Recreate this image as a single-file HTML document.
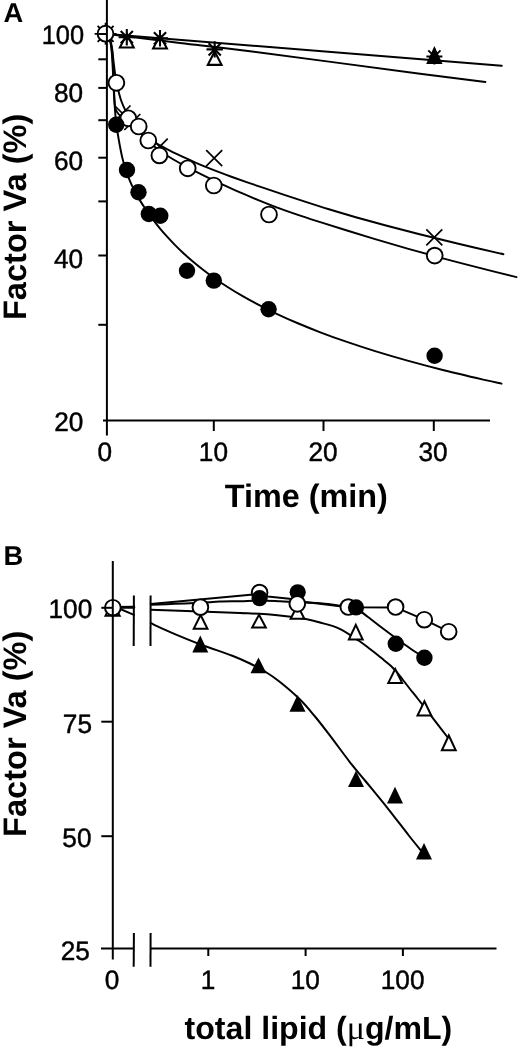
<!DOCTYPE html>
<html><head><meta charset="utf-8"><title>Figure</title>
<style>
html,body{margin:0;padding:0;background:#fff;}
body{width:520px;height:1052px;overflow:hidden;}
svg{display:block;font-family:"Liberation Sans",sans-serif;will-change:transform;filter:grayscale(1) blur(0.35px);}
svg text{text-rendering:geometricPrecision;}
svg text.d{stroke:#000;stroke-width:0.45px;}
</style></head><body>
<svg width="520" height="1052" viewBox="0 0 520 1052" stroke="#000" fill="#000">
<rect x="0" y="0" width="520" height="1052" fill="#fff" stroke="none"/>
<g stroke="#000">
<g fill="none" stroke-width="1.95" stroke-linecap="round" stroke-linejoin="round">
<path d="M107.3,34 L501.7,65.8"/>
<path d="M107.3,34 C119.42,35.5 156.22,40.12 180,43 C203.78,45.88 210,46.18 250,51.3 C290,56.42 380.77,68.58 420,73.7 C459.23,78.82 474.5,80.62 485.4,82"/>
<path d="M107.5,34 C108.02,35.33 109.83,39 110.6,42 C111.37,45 111.72,48.67 112.1,52 C112.48,55.33 112.65,57.33 112.9,62 C113.15,66.67 113.33,73.67 113.6,80 C113.87,86.33 114.17,95.17 114.5,100 C114.83,104.83 114.93,106.67 115.6,109 C116.27,111.33 117.43,112.67 118.5,114 C119.57,115.33 120.92,116.11 122,117 C123.08,117.89 124,118.43 125,119.37 C126,120.31 127,121.63 128,122.67 C129,123.7 129.98,124.64 131,125.58 C132.02,126.51 133.02,127.38 134.12,128.3 C135.22,129.22 136.38,130.14 137.61,131.08 C138.85,132.03 140.15,132.98 141.53,133.95 C142.91,134.92 144.36,135.91 145.91,136.92 C147.46,137.93 149.09,138.96 150.82,140.02 C152.56,141.08 154.38,142.16 156.32,143.27 C158.26,144.38 160.3,145.52 162.48,146.69 C164.65,147.86 166.94,149.07 169.38,150.31 C171.81,151.55 174.37,152.82 177.1,154.14 C179.83,155.46 182.7,156.81 185.75,158.21 C188.81,159.61 192.02,161.04 195.44,162.53 C198.87,164.01 202.46,165.54 206.3,167.11 C210.13,168.68 214.16,170.29 218.45,171.95 C222.75,173.6 227.25,175.29 232.06,177.04 C236.88,178.78 241.93,180.55 247.31,182.41 C252.7,184.26 258.36,186.15 264.39,188.17 C270.42,190.2 276.76,192.31 283.52,194.56 C290.28,196.81 297.37,199.21 304.94,201.67 C312.51,204.13 320.45,206.71 328.93,209.3 C337.41,211.89 346.31,214.52 355.8,217.22 C365.3,219.91 375.27,222.64 385.9,225.48 C396.53,228.31 407.7,231.22 419.61,234.22 C431.52,237.23 444.02,240.31 457.36,243.5 C470.7,246.68 492.29,251.63 499.64,253.34 C507,255.04 501.19,253.68 501.5,253.75"/>
<path d="M107.5,34 C108.05,35.33 109.95,39 110.8,42 C111.65,45 112.13,48.67 112.6,52 C113.07,55.33 112.97,56.87 113.6,62 C114.23,67.13 115.55,77.8 116.4,82.8 C117.25,87.8 117.85,88.88 118.7,92 C119.55,95.12 120.37,98.42 121.5,101.5 C122.63,104.58 124.08,107.82 125.5,110.5 C126.92,113.18 128.75,115.61 130,117.59 C131.25,119.56 131.94,120.73 133,122.33 C134.06,123.94 135.17,125.58 136.36,127.21 C137.55,128.85 138.79,130.5 140.12,132.14 C141.45,133.78 142.85,135.42 144.34,137.03 C145.83,138.65 147.39,140.25 149.06,141.82 C150.73,143.39 152.48,144.92 154.35,146.45 C156.21,147.97 158.17,149.46 160.27,150.97 C162.36,152.47 164.56,153.96 166.9,155.47 C169.24,156.98 171.7,158.48 174.33,160.03 C176.95,161.57 179.71,163.12 182.65,164.72 C185.59,166.33 188.67,167.95 191.96,169.65 C195.26,171.34 198.71,173.07 202.4,174.88 C206.09,176.69 209.96,178.56 214.09,180.51 C218.22,182.46 222.55,184.47 227.18,186.58 C231.8,188.68 236.66,190.88 241.84,193.14 C247.02,195.39 252.46,197.75 258.26,200.12 C264.06,202.48 270.15,204.91 276.65,207.32 C283.15,209.74 289.97,212.14 297.25,214.61 C304.53,217.08 312.17,219.52 320.32,222.14 C328.47,224.75 337.03,227.45 346.16,230.28 C355.29,233.11 364.87,236.08 375.1,239.12 C385.32,242.17 396.06,245.33 407.51,248.57 C418.96,251.81 430.98,255.14 443.81,258.57 C456.64,262 472.35,266.07 484.47,269.16 C496.58,272.25 511.16,275.78 516.5,277.1"/>
<path d="M107.5,34 C107.98,35.33 109.7,39 110.4,42 C111.1,45 111.37,48.67 111.7,52 C112.03,55.33 112.15,57.83 112.4,62 C112.65,66.17 112.88,70.67 113.2,77 C113.52,83.33 113.77,92.05 114.3,100 C114.83,107.95 115.28,116.07 116.4,124.7 C117.52,133.33 119.73,145.27 121,151.81 C122.27,158.34 123,160.33 124,163.91 C125,167.5 126,170.46 127,173.31 C128,176.16 129,178.63 130,181.02 C131,183.4 131.94,185.43 133,187.61 C134.06,189.8 135.17,191.94 136.36,194.11 C137.55,196.28 138.79,198.43 140.12,200.62 C141.45,202.81 142.85,205.01 144.34,207.26 C145.83,209.52 147.39,211.81 149.06,214.15 C150.73,216.49 152.48,218.89 154.35,221.32 C156.21,223.76 158.17,226.24 160.27,228.76 C162.36,231.28 164.56,233.84 166.9,236.44 C169.24,239.04 171.7,241.68 174.33,244.35 C176.95,247.02 179.71,249.73 182.65,252.47 C185.59,255.21 188.67,257.99 191.96,260.79 C195.26,263.59 198.71,266.42 202.4,269.28 C206.09,272.14 209.96,275.02 214.09,277.93 C218.22,280.84 222.55,283.77 227.18,286.72 C231.8,289.67 236.66,292.65 241.84,295.64 C247.02,298.63 252.46,301.64 258.26,304.66 C264.06,307.68 270.15,310.73 276.65,313.78 C283.15,316.84 289.97,319.91 297.25,323 C304.53,326.08 312.17,329.19 320.32,332.3 C328.47,335.42 337.03,338.55 346.16,341.69 C355.29,344.83 364.87,347.98 375.1,351.15 C385.32,354.31 396.06,357.49 407.51,360.67 C418.96,363.86 430.98,367.06 443.81,370.27 C456.64,373.47 474.85,377.68 484.47,379.91 C494.08,382.15 498.66,383.04 501.5,383.67"/>
</g>
<path d="M126.8,34.09 L133.68,47.45 L119.92,47.45 Z" fill="#fff" stroke-width="2.1" stroke-linejoin="miter"/>
<path d="M118.6,37.2 L135,37.2 M126.8,29 L126.8,45.4 M120.7,31.1 L132.9,43.3 M120.7,43.3 L132.9,31.1" fill="none" stroke-width="2.1"/>
<path d="M160,35.09 L166.88,48.45 L153.12,48.45 Z" fill="#fff" stroke-width="2.1" stroke-linejoin="miter"/>
<path d="M151.8,38.3 L168.2,38.3 M160,30.1 L160,46.5 M153.9,32.2 L166.1,44.4 M153.9,44.4 L166.1,32.2" fill="none" stroke-width="2.1"/>
<path d="M214.7,51.4 L221.58,64.85 L207.82,64.85 Z" fill="#fff" stroke-width="2.1" stroke-linejoin="miter"/>
<path d="M206.5,49.4 L222.9,49.4 M214.7,41.2 L214.7,57.6 M208.6,43.3 L220.8,55.5 M208.6,55.5 L220.8,43.3" fill="none" stroke-width="2.1"/>
<path d="M434.4,46.1 L442.6,64 L426.2,64 Z" fill="#000" stroke="none"/>
<path d="M426.4,56.5 L442.4,56.5 M434.4,48.5 L434.4,64.5 M428.3,50.4 L440.5,62.6 M428.3,62.6 L440.5,50.4" fill="none" stroke-width="1.9"/>
<path d="M114.5,105.5 L130.5,121.5 M114.5,121.5 L130.5,105.5" fill="none" stroke-width="1.7"/>
<path d="M124.3,114 L140.3,130 M124.3,130 L140.3,114" fill="none" stroke-width="1.7"/>
<path d="M151.7,138.7 L167.7,154.7 M151.7,154.7 L167.7,138.7" fill="none" stroke-width="1.7"/>
<path d="M206.2,150.2 L222.2,166.2 M206.2,166.2 L222.2,150.2" fill="none" stroke-width="1.7"/>
<path d="M426.3,229.3 L442.3,245.3 M426.3,245.3 L442.3,229.3" fill="none" stroke-width="1.7"/>
<path d="M94.6,33.8 L116.6,33.8 M105.6,22.8 L105.6,44.8 M97.6,25.8 L113.6,41.8 M97.6,41.8 L113.6,25.8" fill="none" stroke-width="1.8"/>
<circle cx="105.5" cy="33.7" r="7.9" fill="#fff" stroke-width="1.9"/>
<circle cx="116.4" cy="82.8" r="7.9" fill="#fff" stroke-width="1.9"/>
<circle cx="128.3" cy="118.3" r="7.9" fill="#fff" stroke-width="1.9"/>
<circle cx="138.7" cy="126.5" r="7.9" fill="#fff" stroke-width="1.9"/>
<circle cx="148.3" cy="140.5" r="7.9" fill="#fff" stroke-width="1.9"/>
<circle cx="159.4" cy="155.4" r="7.9" fill="#fff" stroke-width="1.9"/>
<circle cx="187.7" cy="168.3" r="7.9" fill="#fff" stroke-width="1.9"/>
<circle cx="213.8" cy="185.5" r="7.9" fill="#fff" stroke-width="1.9"/>
<circle cx="269" cy="214.5" r="7.9" fill="#fff" stroke-width="1.9"/>
<circle cx="434.7" cy="255.6" r="7.9" fill="#fff" stroke-width="1.9"/>
<circle cx="116.2" cy="124.7" r="8.2" fill="#000" stroke="none"/>
<circle cx="127" cy="170" r="8.2" fill="#000" stroke="none"/>
<circle cx="138.5" cy="192.3" r="8.2" fill="#000" stroke="none"/>
<circle cx="148.8" cy="214" r="8.2" fill="#000" stroke="none"/>
<circle cx="160.3" cy="215.8" r="8.2" fill="#000" stroke="none"/>
<circle cx="187" cy="270.8" r="8.2" fill="#000" stroke="none"/>
<circle cx="213.8" cy="280.6" r="8.2" fill="#000" stroke="none"/>
<circle cx="268.6" cy="309.2" r="8.2" fill="#000" stroke="none"/>
<circle cx="434.6" cy="355.7" r="8.2" fill="#000" stroke="none"/>
<line x1="106.9" y1="0" x2="106.9" y2="435.5" stroke-width="2"/>
<line x1="103" y1="420.5" x2="490" y2="420.5" stroke-width="2"/>
<line x1="98.3" y1="34" x2="106.9" y2="34" stroke-width="2"/>
<line x1="98.3" y1="59.3" x2="106.9" y2="59.3" stroke-width="2"/>
<line x1="98.3" y1="87.9" x2="106.9" y2="87.9" stroke-width="2"/>
<line x1="98.3" y1="120.2" x2="106.9" y2="120.2" stroke-width="2"/>
<line x1="98.3" y1="157.7" x2="106.9" y2="157.7" stroke-width="2"/>
<line x1="98.3" y1="201.4" x2="106.9" y2="201.4" stroke-width="2"/>
<line x1="98.3" y1="255.5" x2="106.9" y2="255.5" stroke-width="2"/>
<line x1="98.3" y1="324.8" x2="106.9" y2="324.8" stroke-width="2"/>
<line x1="213.8" y1="420.5" x2="213.8" y2="431" stroke-width="2"/>
<line x1="323.5" y1="420.5" x2="323.5" y2="431" stroke-width="2"/>
<line x1="433.8" y1="420.5" x2="433.8" y2="431" stroke-width="2"/>
<text stroke="none" transform="translate(3.6,21.6) scale(1.000,1)" font-size="27.3" font-weight="bold" text-anchor="start">A</text>
<text stroke="none" transform="translate(84.1,44.2) scale(0.955,1)" font-size="26.6" class="d" text-anchor="end">100</text>
<text stroke="none" transform="translate(83.2,101.9) scale(0.985,1)" font-size="26.6" class="d" text-anchor="end">80</text>
<text stroke="none" transform="translate(83.2,169.8) scale(0.985,1)" font-size="26.6" class="d" text-anchor="end">60</text>
<text stroke="none" transform="translate(83.2,268.4) scale(0.985,1)" font-size="26.6" class="d" text-anchor="end">40</text>
<text stroke="none" transform="translate(83.4,431) scale(0.985,1)" font-size="26.6" class="d" text-anchor="end">20</text>
<text stroke="none" transform="translate(104.9,460.8) scale(0.985,1)" font-size="26.6" class="d" text-anchor="middle">0</text>
<text stroke="none" transform="translate(213.4,460.8) scale(0.985,1)" font-size="26.6" class="d" text-anchor="middle">10</text>
<text stroke="none" transform="translate(323,460.8) scale(0.985,1)" font-size="26.6" class="d" text-anchor="middle">20</text>
<text stroke="none" transform="translate(433,460.8) scale(0.985,1)" font-size="26.6" class="d" text-anchor="middle">30</text>
<text stroke="none" transform="translate(306.3,507.3) scale(1.000,1)" font-size="32.4" font-weight="bold" text-anchor="middle">Time (min)</text>
<text stroke="none" transform="translate(26.1,216.9) rotate(-90)" font-size="32.6" font-weight="bold" text-anchor="middle">Factor Va (%)</text>
<g fill="none" stroke-width="2" stroke-linecap="round" stroke-linejoin="round">
<path d="M112.5,607.4 L133.9,607.2" stroke-width="2.9"/>
<path d="M118,608 L133.9,614.8"/>
<path d="M150.8,604 L259.6,594 L267.7,596.5 L289.6,598.8 L297.2,601 L348.3,607.2 L395.6,607.4 L424.3,619.7 L448.7,631.7"/>
<path d="M150.8,604.8 C154.83,604.63 166.73,604.13 175,603.8 C183.27,603.47 192.9,603.17 200.4,602.8 C207.9,602.43 213.4,601.87 220,601.6 C226.6,601.33 233.4,601.38 240,601.2 C246.6,601.02 252.93,600.48 259.6,600.5 C266.27,600.52 273.68,601 280,601.3 C286.32,601.6 290.83,601.97 297.5,602.3 C304.17,602.63 312.67,602.68 320,603.3 C327.33,603.92 335.45,605.05 341.5,606 C347.55,606.95 351.88,607.17 356.3,609 C360.72,610.83 363.67,613.83 368,617 C372.33,620.17 377.63,624.47 382.3,628 C386.97,631.53 391.38,634.83 396,638.2 C400.62,641.57 405.27,644.95 410,648.2 C414.73,651.45 422,656.12 424.4,657.7"/>
<path d="M150.8,609.8 C159,610.08 185.13,610.97 200,611.5 C214.87,612.03 228.33,612.52 240,613 C251.67,613.48 261.73,613.8 270,614.4 C278.27,615 283.63,615.83 289.6,616.6 C295.57,617.37 300.73,618.02 305.8,619 C310.87,619.98 314.43,620.9 320,622.5 C325.57,624.1 332.78,625.6 339.2,628.6 C345.62,631.6 353.37,637.1 358.5,640.5 C363.63,643.9 366.8,646.58 370,649 C373.2,651.42 375.37,653.13 377.7,655 C380.03,656.87 381.78,658.37 384,660.2 C386.22,662.03 388.83,663.95 391,666 C393.17,668.05 395,670.17 397,672.5 C399,674.83 400.83,677.25 403,680 C405.17,682.75 407.5,685.83 410,689 C412.5,692.17 414.42,694.45 418,699 C421.58,703.55 426.67,710.05 431.5,716.3 C436.33,722.55 444.08,732.63 447,736.5 C449.92,740.37 448.67,739 449,739.5"/>
<path d="M150.8,623.2 C154.13,624.72 162.6,628.8 170.8,632.3 C179,635.8 189.75,640.28 200,644.2 C210.25,648.12 223.97,652.58 232.3,655.8 C240.63,659.02 244.55,660.88 250,663.5 C255.45,666.12 260,668.42 265,671.5 C270,674.58 274.17,677.33 280,682 C285.83,686.67 294.17,693.75 300,699.5 C305.83,705.25 310,710.48 315,716.5 C320,722.52 324.17,727.97 330,735.6 C335.83,743.23 344.1,754.73 350,762.3 C355.9,769.87 358.98,773.17 365.4,781 C371.82,788.83 381.2,800.13 388.5,809.3 C395.8,818.47 403.45,828.72 409.2,836 C414.95,843.28 420.7,850.17 423,853"/>
</g>
<path d="M112.6,601.61 L119.76,615.85 L105.44,615.85 Z" fill="#fff" stroke-width="1.9" stroke-linejoin="miter"/>
<circle cx="112.85" cy="607.7" r="7.85" fill="#fff" stroke-width="1.95"/>
<path d="M200.6,615.04 L207.48,628.8 L193.72,628.8 Z" fill="#fff" stroke-width="2" stroke-linejoin="miter"/>
<path d="M259,614.82 L265.83,627.6 L252.17,627.6 Z" fill="#fff" stroke-width="2" stroke-linejoin="miter"/>
<path d="M297.5,605.21 L304.37,618.8 L290.63,618.8 Z" fill="#fff" stroke-width="2" stroke-linejoin="miter"/>
<path d="M355.8,624.85 L362.73,639.6 L348.87,639.6 Z" fill="#fff" stroke-width="2" stroke-linejoin="miter"/>
<path d="M395.2,669.05 L402.09,682.9 L388.31,682.9 Z" fill="#fff" stroke-width="2" stroke-linejoin="miter"/>
<path d="M424.4,701.21 L431.31,715.6 L417.49,715.6 Z" fill="#fff" stroke-width="2" stroke-linejoin="miter"/>
<path d="M448.8,735.45 L455.73,750.2 L441.87,750.2 Z" fill="#fff" stroke-width="2" stroke-linejoin="miter"/>
<path d="M200.3,635.4 L208.3,652.4 L192.3,652.4 Z" fill="#000" stroke="none"/>
<path d="M258.5,657.4 L266.5,673.3 L250.5,673.3 Z" fill="#000" stroke="none"/>
<path d="M297.5,695.1 L305.5,711.8 L289.5,711.8 Z" fill="#000" stroke="none"/>
<path d="M356,770.8 L364,787 L348,787 Z" fill="#000" stroke="none"/>
<path d="M395,786.8 L403,803.5 L387,803.5 Z" fill="#000" stroke="none"/>
<path d="M424,843.1 L432,859.5 L416,859.5 Z" fill="#000" stroke="none"/>
<circle cx="200.4" cy="607.2" r="7.85" fill="#fff" stroke-width="1.95"/>
<circle cx="259.6" cy="592.5" r="7.85" fill="#fff" stroke-width="1.95"/>
<circle cx="259.6" cy="598.2" r="8.1" fill="#000" stroke="none"/>
<circle cx="297.7" cy="592.3" r="8.1" fill="#000" stroke="none"/>
<circle cx="297.3" cy="603.8" r="7.85" fill="#fff" stroke-width="1.95"/>
<circle cx="348.3" cy="607" r="7.85" fill="#fff" stroke-width="1.95"/>
<circle cx="356" cy="607.4" r="8.1" fill="#000" stroke="none"/>
<circle cx="395.6" cy="607" r="7.85" fill="#fff" stroke-width="1.95"/>
<circle cx="424.3" cy="619.7" r="7.85" fill="#fff" stroke-width="1.95"/>
<circle cx="448.7" cy="631.7" r="7.85" fill="#fff" stroke-width="1.95"/>
<circle cx="395.8" cy="643.8" r="8.2" fill="#000" stroke="none"/>
<circle cx="424.4" cy="657.8" r="8.2" fill="#000" stroke="none"/>
<line x1="112.8" y1="561" x2="112.8" y2="959.5" stroke-width="2"/>
<line x1="101" y1="948.5" x2="133.9" y2="948.5" stroke-width="2"/>
<line x1="150.6" y1="948.5" x2="496.5" y2="948.5" stroke-width="2"/>
<line x1="133.9" y1="933" x2="133.7" y2="966.8" stroke-width="2"/>
<line x1="150.6" y1="933" x2="150.5" y2="966.8" stroke-width="2"/>
<line x1="133.9" y1="595.5" x2="133.7" y2="646" stroke-width="2"/>
<line x1="150.6" y1="595.5" x2="150.5" y2="646" stroke-width="2"/>
<line x1="101.3" y1="607.8" x2="112.8" y2="607.8" stroke-width="2"/>
<line x1="101.3" y1="721.7" x2="112.8" y2="721.7" stroke-width="2"/>
<line x1="101.3" y1="836.2" x2="112.8" y2="836.2" stroke-width="2"/>
<line x1="208.3" y1="948.5" x2="208.3" y2="956" stroke-width="2"/>
<line x1="305.6" y1="948.5" x2="305.6" y2="956" stroke-width="2"/>
<line x1="402.9" y1="948.5" x2="402.9" y2="956" stroke-width="2"/>
<text stroke="none" transform="translate(3.6,564.7) scale(1.000,1)" font-size="27.3" font-weight="bold" text-anchor="start">B</text>
<text stroke="none" transform="translate(92.2,618.2) scale(0.985,1)" font-size="26.6" class="d" text-anchor="end">100</text>
<text stroke="none" transform="translate(92,733) scale(0.985,1)" font-size="26.6" class="d" text-anchor="end">75</text>
<text stroke="none" transform="translate(91.5,846.6) scale(0.985,1)" font-size="26.6" class="d" text-anchor="end">50</text>
<text stroke="none" transform="translate(89.8,959.5) scale(0.985,1)" font-size="26.6" class="d" text-anchor="end">25</text>
<text stroke="none" transform="translate(112,988.5) scale(0.985,1)" font-size="26.6" class="d" text-anchor="middle">0</text>
<text stroke="none" transform="translate(208,988.8) scale(0.985,1)" font-size="26.6" class="d" text-anchor="middle">1</text>
<text stroke="none" transform="translate(305.3,988.8) scale(0.985,1)" font-size="26.6" class="d" text-anchor="middle">10</text>
<text stroke="none" transform="translate(402.6,988.8) scale(0.985,1)" font-size="26.6" class="d" text-anchor="middle">100</text>
<text stroke="none" x="184.6" y="1038.8" font-size="32.1" font-weight="bold">total lipid (<tspan font-family="Liberation Serif, serif" font-weight="normal" font-size="34">μ</tspan>g/mL)</text>
<text stroke="none" transform="translate(26.2,733.8) rotate(-90)" font-size="32.6" font-weight="bold" text-anchor="middle">Factor Va (%)</text>
</g>
</svg>
</body></html>
